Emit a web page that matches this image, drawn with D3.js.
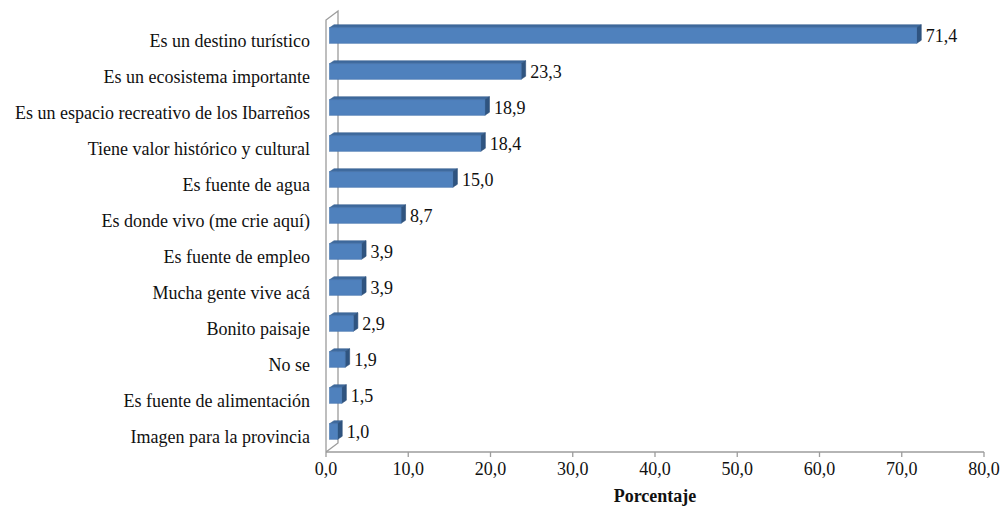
<!DOCTYPE html>
<html>
<head>
<meta charset="utf-8">
<script src="https://cdn.jsdelivr.net/npm/d3@7"></script>
</head>
<body style="margin:0">
<svg id="chart" width="1003" height="510" style="display:block"></svg>
<script>
// Razones de valoración (porcentaje de respuestas)
const categories = [
  "Es un destino turístico",
  "Es un ecosistema importante",
  "Es un espacio recreativo de los Ibarreños",
  "Tiene valor histórico y cultural",
  "Es fuente de agua",
  "Es donde vivo (me crie aquí)",
  "Es fuente de empleo",
  "Mucha gente vive acá",
  "Bonito paisaje",
  "No se",
  "Es fuente de alimentación",
  "Imagen para la provincia"
];
const values = [71.4, 23.3, 18.9, 18.4, 15.0, 8.7, 3.9, 3.9, 2.9, 1.9, 1.5, 1.0];
const xTicks = [0, 10, 20, 30, 40, 50, 60, 70, 80];
const axisTitle = "Porcentaje";

const fmt = v => v.toFixed(1).replace(".", ",");

const svg = d3.select("#chart");
const plotLeft = 326, plotRight = 984, plotTop = 20, plotBottom = 452;
const depthX = 12, depthY = -9;   // 3D wall depth offset
const axisColor = "#9c9c9c";
const labelFont = '"Liberation Serif", monospace';
const fontSize = 18;

const x = d3.scaleLinear().domain([0, 80]).range([plotLeft, plotRight]);
const y = d3.scaleBand().domain(categories).range([plotTop, plotBottom]).paddingInner(0.56).paddingOuter(0.28);

// Side wall (left) and floor edge
svg.append("path")
  .attr("d", `M${plotLeft},${plotBottom} L${plotLeft},${plotTop} L${plotLeft + depthX},${plotTop + depthY} L${plotLeft + depthX},${plotBottom + depthY} L${plotLeft},${plotBottom}`)
  .attr("fill", "none").attr("stroke", axisColor).attr("stroke-width", 1.3);

// Bottom axis
svg.append("line")
  .attr("x1", plotLeft).attr("x2", plotRight).attr("y1", plotBottom).attr("y2", plotBottom)
  .attr("stroke", axisColor).attr("stroke-width", 1.3);

const tickG = svg.append("g");
tickG.selectAll("line").data(xTicks).join("line")
  .attr("x1", d => x(d)).attr("x2", d => x(d))
  .attr("y1", plotBottom).attr("y2", plotBottom + 5)
  .attr("stroke", axisColor).attr("stroke-width", 1.3);
tickG.selectAll("text").data(xTicks).join("text")
  .attr("x", d => x(d)).attr("y", plotBottom + 23)
  .attr("text-anchor", "middle").attr("fill", "#111").attr("font-size", fontSize)
  .style("font-family", labelFont)
  .text(d => fmt(d));

svg.append("text")
  .attr("x", (plotLeft + plotRight) / 2).attr("y", plotBottom + 50)
  .attr("text-anchor", "middle").attr("fill", "#111").attr("font-size", fontSize)
  .attr("font-weight", "bold")
  .style("font-family", labelFont)
  .text(axisTitle);

// Category labels
svg.append("g").selectAll("text").data(categories).join("text")
  .attr("x", 310).attr("y", d => y(d) + y.bandwidth() / 2 + 8.5)
  .attr("text-anchor", "end").attr("fill", "#111").attr("font-size", fontSize)
  .style("font-family", labelFont)
  .text(d => d);

// 3D bars
const fx = 3.5, fy = -2.5;   // front face offset from front plane
const bx = 4.5, by = -3;     // bar depth
const barH = 15.5;
const bars = svg.append("g").selectAll("g").data(categories).join("g");

bars.each(function (c, i) {
  const g = d3.select(this);
  const x0 = x(0) + fx, x1 = x(values[i]) + fx;
  const cy = y(c) + y.bandwidth() / 2 + fy;
  const y0 = cy - barH / 2, y1 = cy + barH / 2;
  // top face
  g.append("path")
    .attr("d", `M${x0},${y0} L${x0 + bx},${y0 + by} L${x1 + bx},${y0 + by} L${x1},${y0} Z`)
    .attr("fill", "#3f6a9e").attr("stroke", "#36608f").attr("stroke-width", 0.6);
  // side face
  g.append("path")
    .attr("d", `M${x1},${y0} L${x1 + bx},${y0 + by} L${x1 + bx},${y1 + by} L${x1},${y1} Z`)
    .attr("fill", "#2f5480").attr("stroke", "#2b4d76").attr("stroke-width", 0.6);
  // front face
  g.append("rect")
    .attr("x", x0).attr("y", y0).attr("width", x1 - x0).attr("height", barH)
    .attr("fill", "#4f81bd").attr("stroke", "#4576b0").attr("stroke-width", 0.6);
  // value label
  g.append("text")
    .attr("x", x1 + bx + 4.5).attr("y", cy + 6.5)
    .attr("fill", "#111").attr("font-size", fontSize)
    .style("font-family", labelFont)
    .text(fmt(values[i]));
});
</script>
</body>
</html>
